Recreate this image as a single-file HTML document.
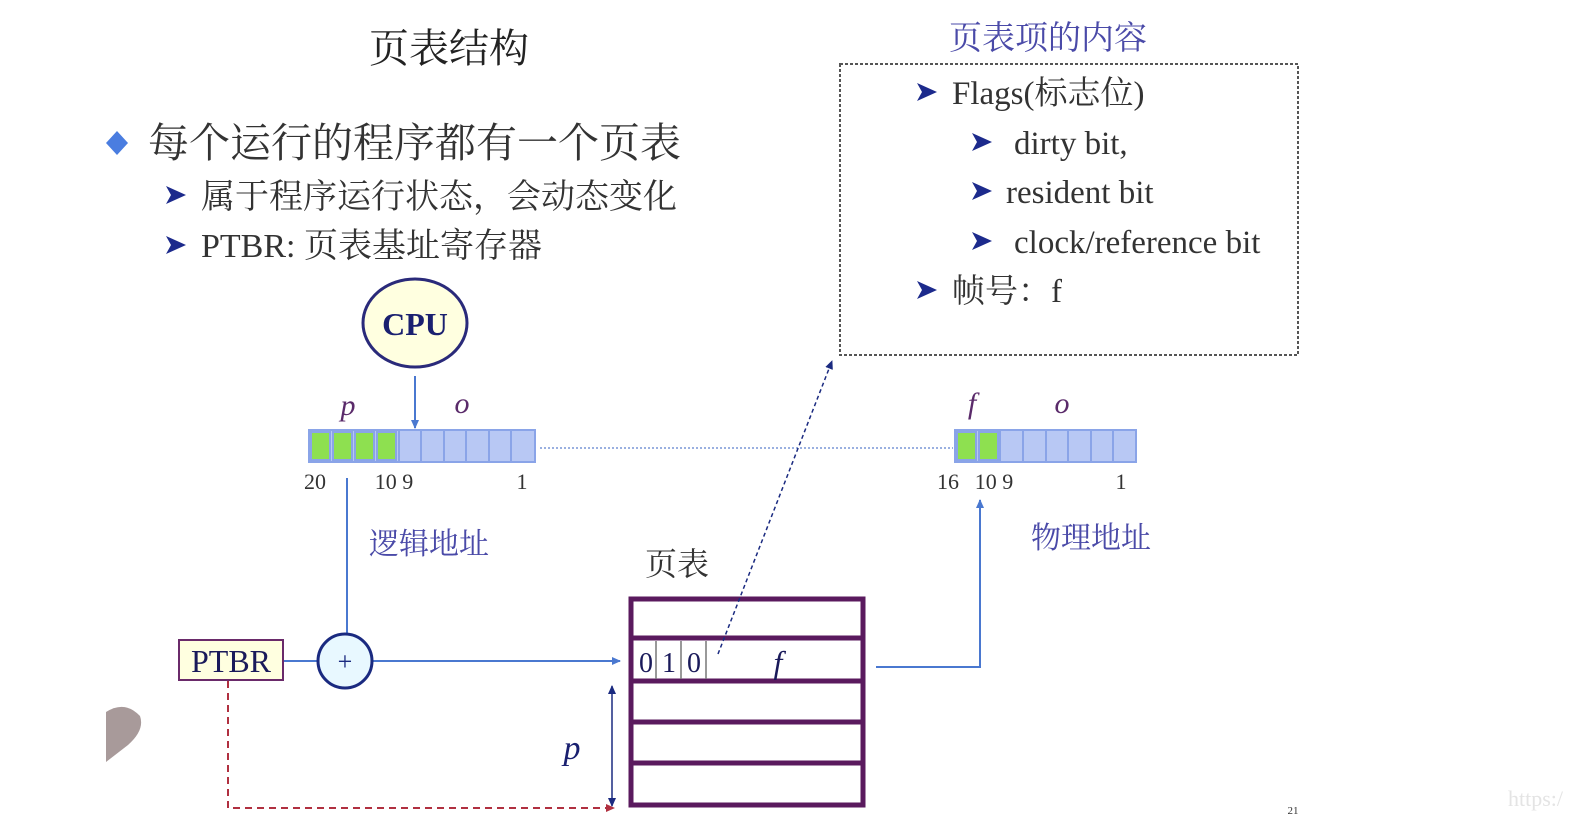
<!DOCTYPE html>
<html><head><meta charset="utf-8"><style>
html,body{margin:0;padding:0;background:#fff;}
svg{display:block}
text{font-family:"Liberation Serif","Noto Serif CJK SC",serif;}
</style></head><body>
<svg width="1574" height="828" viewBox="0 0 1574 828" xmlns="http://www.w3.org/2000/svg">
<defs>
<marker id="ab" markerWidth="10" markerHeight="10" refX="8" refY="5" orient="auto" markerUnits="userSpaceOnUse"><path d="M0,1 L9,5 L0,9 z" fill="#4a78d0"/></marker>
<marker id="ad" markerWidth="10" markerHeight="10" refX="8" refY="5" orient="auto" markerUnits="userSpaceOnUse"><path d="M0,1 L9,5 L0,9 z" fill="#1a2a80"/></marker>
<marker id="ar" markerWidth="10" markerHeight="10" refX="8" refY="5" orient="auto" markerUnits="userSpaceOnUse"><path d="M0,1 L9,5 L0,9 z" fill="#b03040"/></marker>
<g id="chev"><path d="M0,-9 L20,0 L0,9 L5,0 z" fill="#1c2a8c"/></g>
</defs>
<text x="449" y="62" font-size="40" text-anchor="middle" fill="#222">页表结构</text>
<path d="M117,131 L128,143 L117,155 L106,143 z" fill="#4a7de0"/>
<text x="148" y="157" font-size="41" fill="#333">每个运行的程序都有一个页表</text>
<use href="#chev" x="166" y="195"/>
<text x="201" y="208" font-size="34" fill="#333">属于程序运行状态，会动态变化</text>
<use href="#chev" x="166" y="245"/>
<text x="201" y="257" font-size="34" fill="#333">PTBR: 页表基址寄存器</text>

<text x="1048" y="49" font-size="33" text-anchor="middle" fill="#4a4aa8">页表项的内容</text>
<rect x="840" y="64" width="458" height="291" fill="none" stroke="#555" stroke-width="2" stroke-dasharray="3,2"/>
<use href="#chev" x="917" y="92"/><text x="952" y="104" font-size="33" fill="#333">Flags(标志位)</text>
<use href="#chev" x="972" y="142"/><text x="1014" y="154" font-size="33" fill="#333">dirty bit,</text>
<use href="#chev" x="972" y="191"/><text x="1006" y="203" font-size="33" fill="#333">resident bit</text>
<use href="#chev" x="972" y="241"/><text x="1014" y="253" font-size="33" fill="#333">clock/reference bit</text>
<use href="#chev" x="917" y="290"/><text x="952" y="302" font-size="33" fill="#333">帧号：f</text>

<ellipse cx="415" cy="323" rx="52" ry="44" fill="#ffffe0" stroke="#2a2a7a" stroke-width="3"/>
<text x="415" y="335" font-size="32" font-weight="bold" text-anchor="middle" fill="#1a2070">CPU</text>
<line x1="415" y1="376" x2="415" y2="428" stroke="#4a78d0" stroke-width="2" marker-end="url(#ab)"/>

<text x="348" y="415" font-size="30" font-style="italic" text-anchor="middle" fill="#5a2a6a">p</text>
<text x="462" y="413" font-size="30" font-style="italic" text-anchor="middle" fill="#5a2a6a">o</text>
<rect x="309" y="430" width="226" height="32" fill="#b8c8f4" stroke="#8aa4e8" stroke-width="2"/>
<g stroke="#8aa4e8" stroke-width="2">
<rect x="311" y="432" width="19" height="28" fill="#8ee050"/>
<rect x="333" y="432" width="19" height="28" fill="#8ee050"/>
<rect x="355" y="432" width="19" height="28" fill="#8ee050"/>
<rect x="377" y="432" width="19" height="28" fill="#8ee050"/>
<line x1="421" y1="431" x2="421" y2="461"/><line x1="444" y1="431" x2="444" y2="461"/><line x1="466" y1="431" x2="466" y2="461"/><line x1="489" y1="431" x2="489" y2="461"/><line x1="511" y1="431" x2="511" y2="461"/><line x1="399" y1="431" x2="399" y2="461"/>
</g>
<text x="315" y="489" font-size="22" text-anchor="middle" fill="#333">20</text>
<text x="394" y="489" font-size="22" text-anchor="middle" fill="#333">10 9</text>
<text x="522" y="489" font-size="22" text-anchor="middle" fill="#333">1</text>
<line x1="540" y1="448" x2="953" y2="448" stroke="#9ab0e0" stroke-width="2" stroke-dasharray="2,2"/>

<text x="972" y="413" font-size="30" font-style="italic" text-anchor="middle" fill="#5a2a6a">f</text>
<text x="1062" y="413" font-size="30" font-style="italic" text-anchor="middle" fill="#5a2a6a">o</text>
<rect x="955" y="430" width="181" height="32" fill="#b8c8f4" stroke="#8aa4e8" stroke-width="2"/>
<g stroke="#8aa4e8" stroke-width="2">
<rect x="957" y="432" width="19" height="28" fill="#8ee050"/>
<rect x="979" y="432" width="19" height="28" fill="#8ee050"/>
<line x1="1000" y1="431" x2="1000" y2="461"/><line x1="1023" y1="431" x2="1023" y2="461"/><line x1="1046" y1="431" x2="1046" y2="461"/><line x1="1068" y1="431" x2="1068" y2="461"/><line x1="1091" y1="431" x2="1091" y2="461"/><line x1="1113" y1="431" x2="1113" y2="461"/>
</g>
<text x="948" y="489" font-size="22" text-anchor="middle" fill="#333">16</text>
<text x="994" y="489" font-size="22" text-anchor="middle" fill="#333">10 9</text>
<text x="1121" y="489" font-size="22" text-anchor="middle" fill="#333">1</text>

<text x="429" y="554" font-size="30" text-anchor="middle" fill="#4a4aa8">逻辑地址</text>
<text x="1091" y="548" font-size="30" text-anchor="middle" fill="#4a4aa8">物理地址</text>
<text x="677" y="575" font-size="32" text-anchor="middle" fill="#333">页表</text>

<line x1="347" y1="478" x2="347" y2="634" stroke="#4a78d0" stroke-width="2"/>
<line x1="283" y1="661" x2="318" y2="661" stroke="#4a78d0" stroke-width="2"/>
<line x1="372" y1="661" x2="620" y2="661" stroke="#4a78d0" stroke-width="2" marker-end="url(#ab)"/>
<circle cx="345" cy="661" r="27" fill="#e8f8ff" stroke="#1a2a80" stroke-width="3"/>
<text x="345" y="670" font-size="26" text-anchor="middle" fill="#1a2a80">+</text>
<rect x="179" y="640" width="104" height="40" fill="#ffffe0" stroke="#6a2a6a" stroke-width="2"/>
<text x="231" y="672" font-size="32" text-anchor="middle" fill="#1a1a5a">PTBR</text>

<rect x="631" y="599" width="232" height="206" fill="#fff" stroke="#5a1a5e" stroke-width="5"/>
<g stroke="#5a1a5e" stroke-width="5">
<line x1="631" y1="638" x2="863" y2="638"/><line x1="631" y1="681" x2="863" y2="681"/><line x1="631" y1="722" x2="863" y2="722"/><line x1="631" y1="763" x2="863" y2="763"/>
</g>
<g stroke="#777" stroke-width="1.5"><line x1="656" y1="641" x2="656" y2="679"/><line x1="681" y1="641" x2="681" y2="679"/><line x1="706" y1="641" x2="706" y2="679"/></g>
<text x="646" y="672" font-size="28" text-anchor="middle" fill="#1a1a5a">0</text>
<text x="669" y="672" font-size="28" text-anchor="middle" fill="#1a1a5a">1</text>
<text x="694" y="672" font-size="28" text-anchor="middle" fill="#1a1a5a">0</text>
<text x="778" y="673" font-size="32" font-style="italic" text-anchor="middle" fill="#1a1a5a">f</text>
<line x1="718" y1="654" x2="832" y2="361" stroke="#1a2a80" stroke-width="1.5" stroke-dasharray="4,3" marker-end="url(#ad)"/>
<polyline points="876,667 980,667 980,500" fill="none" stroke="#4a78d0" stroke-width="2" marker-end="url(#ab)"/>

<text x="572" y="759" font-size="34" font-style="italic" text-anchor="middle" fill="#1a2070">p</text>
<line x1="612" y1="745" x2="612" y2="686" stroke="#1a2a80" stroke-width="1.5" marker-end="url(#ad)"/>
<line x1="612" y1="745" x2="612" y2="806" stroke="#1a2a80" stroke-width="1.5" marker-end="url(#ad)"/>
<polyline points="228,681 228,808 614,808" fill="none" stroke="#b03040" stroke-width="2" stroke-dasharray="7,5" marker-end="url(#ar)"/>

<path d="M106,712 Q125,700 140,716 Q145,730 128,745 L106,762 z" fill="#a89a9a"/>
<text x="1293" y="814" font-size="11" text-anchor="middle" fill="#333">21</text>
<text x="1508" y="806" font-size="22" fill="#e4e4e4" font-family="Liberation Sans">https:/</text>
</svg>
</body></html>
